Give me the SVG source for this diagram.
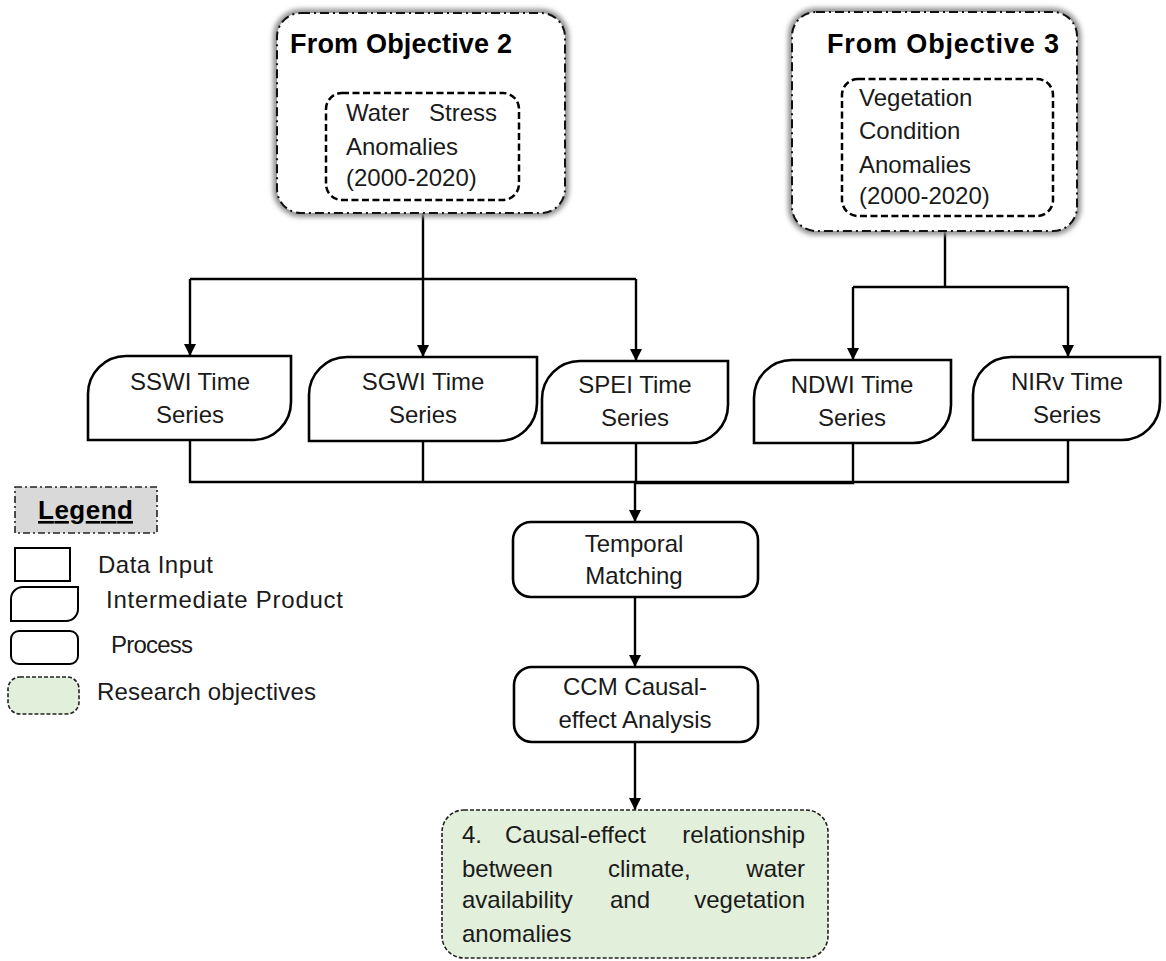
<svg xmlns="http://www.w3.org/2000/svg" width="1166" height="961" viewBox="0 0 1166 961">
  <defs>
    <style>
      text { font-family: "Liberation Sans", Arial, sans-serif; font-size: 24px; fill: #1a1a1a; }
      .title { font-weight: bold; font-size: 27px; fill: #000; }
      .mid { text-anchor: middle; }
      .end { text-anchor: end; }
      .box { fill: #fff; stroke: #000; stroke-width: 2.6; }
      .halo { fill: none; stroke: #8f8f8f; stroke-width: 8; filter: url(#soft); }
      .dashdot { fill: #fff; stroke: #111; stroke-width: 2; stroke-dasharray: 9 4 2 4; }
      .dashed { fill: #fff; stroke: #000; stroke-width: 2.5; stroke-dasharray: 7 3.5; }
      .objective { fill: #e2efda; stroke: #222; stroke-width: 1.6; stroke-dasharray: 4 2; }
      .link { fill: none; stroke: #000; stroke-width: 2.4; }
    </style>
    <filter id="soft" x="-10%" y="-10%" width="120%" height="120%">
      <feGaussianBlur stdDeviation="2.8"/>
    </filter>
    <marker id="arrow" viewBox="0 0 10 10" refX="10" refY="5" markerWidth="5.2" markerHeight="5.2" orient="auto" markerUnits="strokeWidth">
      <path d="M0,0 L10,5 L0,10 Z" fill="#000"/>
    </marker>
  </defs>

  <!-- Connectors -->
  <g id="connectors">
    <!-- water stress anomalies fan-out -->
    <path class="link" d="M423,200 V279"/>
    <path class="link" d="M190,279 H636"/>
    <path class="link" d="M190,279 V356" marker-end="url(#arrow)"/>
    <path class="link" d="M423,279 V357" marker-end="url(#arrow)"/>
    <path class="link" d="M636,279 V361" marker-end="url(#arrow)"/>
    <!-- vegetation condition anomalies fan-out -->
    <path class="link" d="M945,216 V287"/>
    <path class="link" d="M853,287 H1068"/>
    <path class="link" d="M853,287 V360" marker-end="url(#arrow)"/>
    <path class="link" d="M1068,287 V357" marker-end="url(#arrow)"/>
    <!-- time series merge -->
    <path class="link" d="M190,440 V482 H1068 V440"/>
    <path class="link" d="M423,441 V482"/>
    <path class="link" d="M636,443 V482"/>
    <path class="link" d="M853,443 V483 H636"/>
    <path class="link" d="M635,482 V522" marker-end="url(#arrow)"/>
    <!-- process chain -->
    <path class="link" d="M635,597 V667" marker-end="url(#arrow)"/>
    <path class="link" d="M635,742 V810" marker-end="url(#arrow)"/>
  </g>

  <!-- Objective 2 source -->
  <g id="objective2">
    <rect class="halo" x="277" y="13" width="288" height="200" rx="24"/>
    <rect class="dashdot" x="277" y="13" width="288" height="200" rx="24"/>
    <text class="title" x="290" y="53" textLength="222">From Objective 2</text>
  </g>
  <g id="water-stress">
    <rect class="dashed" x="326" y="93" width="193" height="107" rx="16"/>
    <text x="346" y="121">Water</text>
    <text class="end" x="497" y="121">Stress</text>
    <text x="346" y="155">Anomalies</text>
    <text x="346" y="186">(2000-2020)</text>
  </g>

  <!-- Objective 3 source -->
  <g id="objective3">
    <rect class="halo" x="792" y="12" width="285" height="219" rx="24"/>
    <rect class="dashdot" x="792" y="12" width="285" height="219" rx="24"/>
    <text class="title" x="827" y="53" textLength="232">From Objective 3</text>
  </g>
  <g id="vegetation-condition">
    <rect class="dashed" x="842" y="79" width="211" height="137" rx="16"/>
    <text x="859" y="106">Vegetation</text>
    <text x="859" y="139">Condition</text>
    <text x="859" y="173">Anomalies</text>
    <text x="859" y="204">(2000-2020)</text>
  </g>

  <!-- Intermediate time series products -->
  <g id="sswi">
    <path class="box" d="M88,394 A38,38 0 0 1 126,356 H291 V402 A38,38 0 0 1 253,440 H88 Z"/>
    <text class="mid" x="190" y="390">SSWI Time</text>
    <text class="mid" x="190" y="423">Series</text>
  </g>
  <g id="sgwi">
    <path class="box" d="M309,395 A38,38 0 0 1 347,357 H537 V403 A38,38 0 0 1 499,441 H309 Z"/>
    <text class="mid" x="423" y="390">SGWI Time</text>
    <text class="mid" x="423" y="423">Series</text>
  </g>
  <g id="spei">
    <path class="box" d="M542,399 A38,38 0 0 1 580,361 H728 V405 A38,38 0 0 1 690,443 H542 Z"/>
    <text class="mid" x="635" y="393">SPEI Time</text>
    <text class="mid" x="635" y="426">Series</text>
  </g>
  <g id="ndwi">
    <path class="box" d="M754,398 A38,38 0 0 1 792,360 H951 V405 A38,38 0 0 1 913,443 H754 Z"/>
    <text class="mid" x="852" y="393">NDWI Time</text>
    <text class="mid" x="852" y="426">Series</text>
  </g>
  <g id="nirv">
    <path class="box" d="M973,395 A38,38 0 0 1 1011,357 H1160 V402 A38,38 0 0 1 1122,440 H973 Z"/>
    <text class="mid" x="1067" y="390">NIRv Time</text>
    <text class="mid" x="1067" y="423">Series</text>
  </g>

  <!-- Processes -->
  <g id="temporal-matching">
    <rect class="box" x="513" y="522" width="245" height="75" rx="18"/>
    <text class="mid" x="634" y="552">Temporal</text>
    <text class="mid" x="634" y="584">Matching</text>
  </g>
  <g id="ccm-analysis">
    <rect class="box" x="514" y="667" width="244" height="75" rx="18"/>
    <text class="mid" x="635" y="695">CCM Causal-</text>
    <text class="mid" x="635" y="728">effect Analysis</text>
  </g>

  <!-- Research objective -->
  <g id="objective4">
    <rect class="objective" x="442" y="810" width="386" height="148" rx="22"/>
    <text x="462" y="843">4.</text>
    <text x="505" y="843">Causal-effect</text>
    <text class="end" x="805" y="843">relationship</text>
    <text x="462" y="877">between</text>
    <text x="608" y="877">climate,</text>
    <text class="end" x="805" y="877">water</text>
    <text x="462" y="908">availability</text>
    <text x="610" y="908">and</text>
    <text class="end" x="805" y="908">vegetation</text>
    <text x="462" y="942">anomalies</text>
  </g>

  <!-- Legend -->
  <g id="legend">
    <rect x="15" y="487" width="142" height="46" fill="#d9d9d9" stroke="#222" stroke-width="1.6" stroke-dasharray="7 3 2 3"/>
    <text x="38" y="519" style="font-weight:bold;font-size:26px;fill:#000" text-decoration="underline" textLength="95">Legend</text>
    <rect x="15" y="548" width="55" height="33" fill="#fff" stroke="#000" stroke-width="2"/>
    <text x="98" y="573" textLength="115">Data Input</text>
    <path d="M11,599 A12,12 0 0 1 23,587 H78 V609 A12,12 0 0 1 66,621 H11 Z" fill="#fff" stroke="#000" stroke-width="2"/>
    <text x="106" y="608" textLength="237">Intermediate Product</text>
    <rect x="11" y="631" width="67" height="33" rx="8" fill="#fff" stroke="#000" stroke-width="2"/>
    <text x="111" y="653" textLength="82">Process</text>
    <rect x="8" y="677" width="71" height="37" rx="12" fill="#e2efda" stroke="#222" stroke-width="1.6" stroke-dasharray="4 2"/>
    <text x="97" y="700" textLength="219">Research objectives</text>
  </g>
</svg>
